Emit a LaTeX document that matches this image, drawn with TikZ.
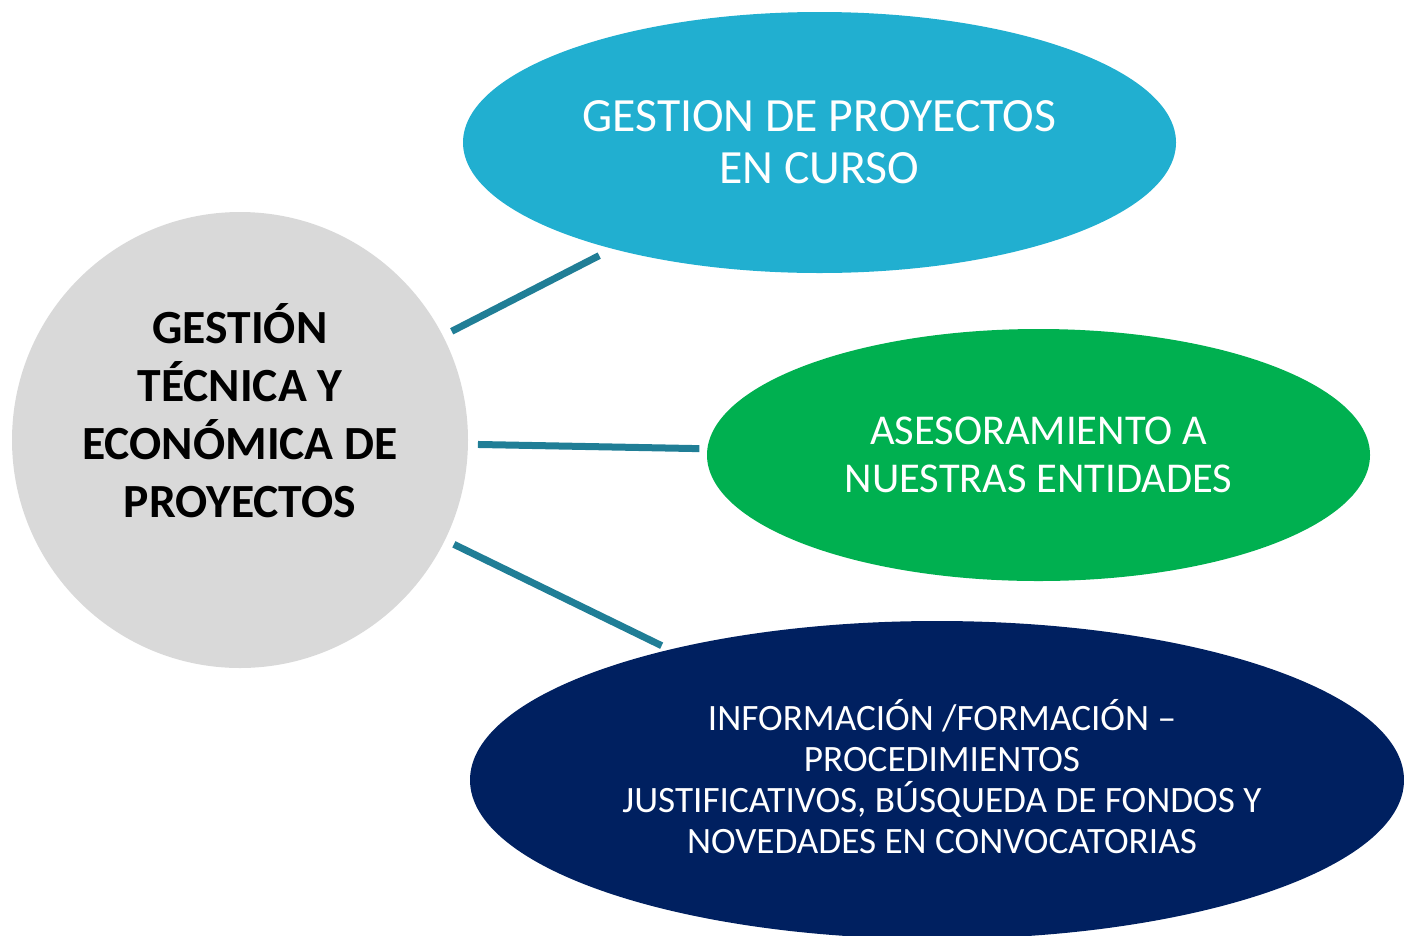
\documentclass[tikz,border=0pt]{standalone}
\usepackage{fontspec}
\setmainfont{Carlito}
\usetikzlibrary{shapes.geometric}
\definecolor{hubgray}{HTML}{D9D9D9}
\definecolor{cyanfill}{HTML}{21AFD0}
\definecolor{greenfill}{HTML}{00B050}
\definecolor{navyfill}{HTML}{002060}
\definecolor{linkcol}{HTML}{207E96}
\tikzset{
  bubble/.style={ellipse, inner sep=0pt, outer sep=0pt, text=white, align=center},
  link/.style={draw=linkcol, line width=7pt, line cap=butt}
}
\begin{document}
\begin{tikzpicture}[x=1pt, y=-1pt]
\useasboundingbox (0,0) rectangle (1404,935);
\clip (0,0) rectangle (1404,935);
\node[circle, fill=hubgray, minimum size=456pt, inner sep=0pt, outer sep=0pt] (hub) at (240,440) {};
\node[font=\fontsize{47.6}{58}\selectfont\bfseries, align=center, text=black] (hubtext) at (240,411)
  {GESTIÓN\\TÉCNICA Y\\ECONÓMICA DE\\PROYECTOS};
\node[bubble, fill=cyanfill, minimum width=713pt, minimum height=261pt,
  font=\fontsize{47.7}{52}\selectfont] (cyanb) at (819.5,142.5)
  {GESTION DE PROYECTOS\\EN CURSO};
\node[bubble, fill=greenfill, minimum width=663pt, minimum height=252pt,
  font=\fontsize{42.5}{48}\selectfont] (greenb) at (1038.5,455)
  {ASESORAMIENTO A\\NUESTRAS ENTIDADES};
\node[bubble, fill=navyfill, minimum width=934pt, minimum height=318pt] (navyb) at (937,780) {};
\node[text=white, align=center, font=\fontsize{37.2}{41}\selectfont] (navytext) at (942,777)
  {INFORMACIÓN /FORMACIÓN –\\PROCEDIMIENTOS\\JUSTIFICATIVOS, BÚSQUEDA DE FONDOS Y\\NOVEDADES EN CONVOCATORIAS};
\draw[link, shorten <=10pt, shorten >=15pt] (hub) -- (cyanb);
\draw[link, shorten <=10pt, shorten >=8pt] (hub) -- (greenb);
\draw[link, shorten <=10pt, shorten >=9pt] (hub) -- (navyb);
\end{tikzpicture}
\end{document}
